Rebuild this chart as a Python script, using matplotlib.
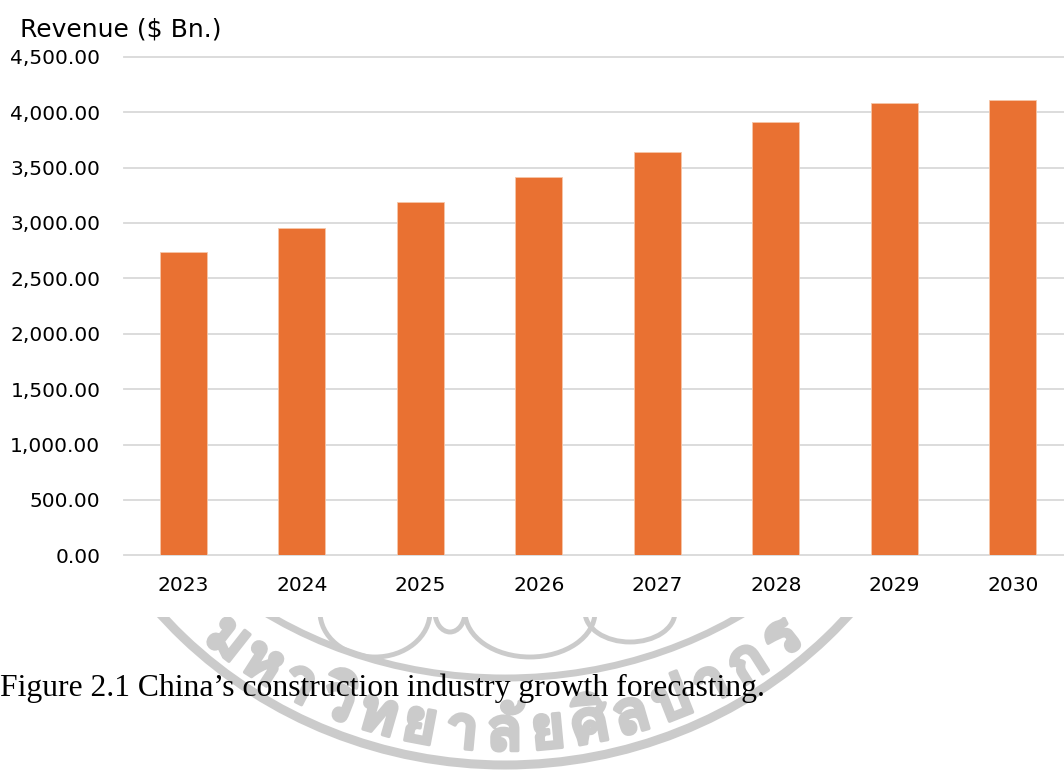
import numpy as np
import matplotlib.pyplot as plt
from matplotlib import font_manager
import matplotlib.patheffects as pe
from matplotlib.patches import Ellipse, Arc
from fontTools.ttLib import TTFont

years = ['2023', '2024', '2025', '2026', '2027', '2028', '2029', '2030']
revenue = [2735, 2951, 3192, 3413, 3639, 3910, 4078, 4108]
yticks = [0, 500, 1000, 1500, 2000, 2500, 3000, 3500, 4000, 4500]

seal_text = ['ม', 'ห', 'า', 'วิ', 'ท', 'ย', 'า', 'ลั', 'ย', 'ศิ', 'ล', 'ป', 'า', 'ก', 'ร']


def thai_family():
    # look for any installed face that covers the Thai block
    for f in font_manager.fontManager.ttflist:
        try:
            font = TTFont(f.fname, fontNumber=0, lazy=True)
            cmap = font.getBestCmap() or {}
        except Exception:
            continue
        if 0x0E01 in cmap and 0x0E21 in cmap:
            return f.name
    return None


W, H = 1064, 772
fig = plt.figure(figsize=(W / 100, H / 100), dpi=100)

# faint seal behind the caption (pixel coordinates, y down)
wm = fig.add_axes([0, 0, 1, 155 / H])
wm.set_xlim(0, W)
wm.set_ylim(H, 617)
wm.axis('off')
seal_grey = '#cbcbcb'
cx, cy = 505, 330
wm.add_patch(Ellipse((cx, cy), 2 * 455, 2 * 435, fill=False, lw=6.5, ec=seal_grey))
wm.add_patch(Ellipse((cx, cy), 2 * 412, 2 * 348, fill=False, lw=5, ec=seal_grey))
for x0, w, h in [(375, 110, 90), (450, 30, 40), (530, 130, 90), (630, 90, 60)]:
    wm.add_patch(Arc((x0, 612), w, h, theta1=0, theta2=180, lw=3.5, ec=seal_grey))

fam = thai_family()
if fam:
    a_m, b_m = 432, 405
    for i, ch in enumerate(seal_text):
        t = np.radians(130 - i * 80 / (len(seal_text) - 1))
        px = cx + a_m * np.cos(t)
        py = cy + b_m * np.sin(t)
        rot = np.degrees(np.arctan2(b_m * np.cos(t), a_m * np.sin(t)))
        wm.text(px, py, ch, fontsize=44, color=seal_grey, rotation=rot,
                rotation_mode='anchor', ha='center', va='center', fontweight='bold',
                family=[fam, 'DejaVu Sans'], clip_on=True,
                path_effects=[pe.withStroke(linewidth=2.5, foreground=seal_grey)])

# bar chart
ax = fig.add_axes([124 / W, 216.7 / H, 948 / W, 498.6 / H])
x = np.arange(len(years))
ax.bar(x, revenue, width=0.4, color='#E97132', edgecolor='#f6c6a8', linewidth=0.6, zorder=3)
ax.set_xlim(-0.5, len(years) - 0.5)
ax.set_ylim(0, 4500)
ax.set_yticks(yticks)
ax.set_yticklabels([f'{v:,.2f}' for v in yticks])
ax.set_xticks(x)
ax.set_xticklabels(years)
ax.tick_params(axis='both', length=0, labelsize=14.5, colors='black')
ax.tick_params(axis='y', pad=17)
ax.tick_params(axis='x', pad=15)
for s in ax.spines.values():
    s.set_visible(False)
ax.grid(axis='y', color='#d9d9d9', linewidth=1.3)
ax.set_axisbelow(True)
for gl in ax.get_ygridlines():
    gl.set_clip_on(False)

fig.text(20 / W, 1 - 36 / H, 'Revenue ($ Bn.)', fontsize=18, ha='left', va='baseline')
fig.text(0, 1 - 696 / H, 'Figure 2.1 China’s construction industry growth forecasting.',
         fontsize=22.8, family='Liberation Serif', ha='left', va='baseline')

fig.savefig('out.png', dpi=100, facecolor='white')
